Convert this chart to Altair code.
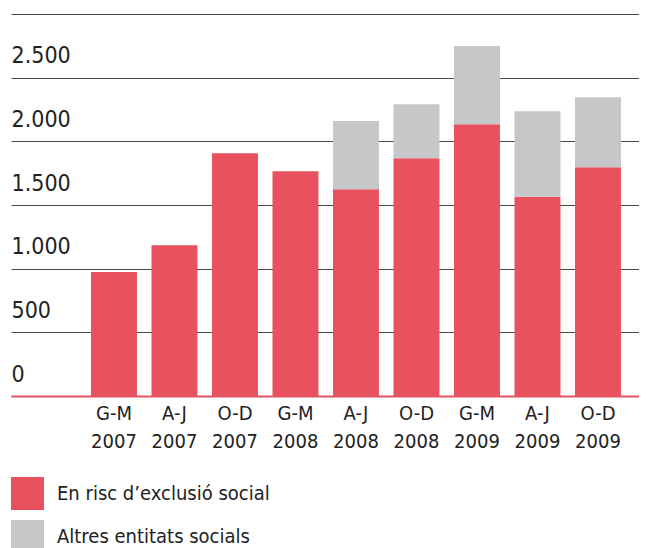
import altair as alt
import pandas as pd

periods = ["G-M 2007", "A-J 2007", "O-D 2007", "G-M 2008", "A-J 2008",
           "O-D 2008", "G-M 2009", "A-J 2009", "O-D 2009"]
risc = [974, 1184, 1907, 1766, 1624, 1868, 2135, 1564, 1797]
altres = [0, 0, 0, 0, 535, 424, 613, 673, 550]
series = ["En risc d’exclusió social", "Altres entitats socials"]
colors = ["#E8525F", "#C6C7C9"]
y_ticks = [0, 500, 1000, 1500, 2000, 2500, 3000]

rows = []
for p, a, b in zip(periods, risc, altres):
    rows.append({"period": p, "value": a, "serie": series[0], "ord": 0})
    rows.append({"period": p, "value": b, "serie": series[1], "ord": 1})
df = pd.DataFrame(rows)

FONT = "Liberation Sans Narrow, DejaVu Sans Condensed, Roboto, sans-serif"

chart = alt.Chart(df).mark_bar().encode(
    x=alt.X("period:N", sort=periods, title=None,
            scale=alt.Scale(paddingInner=0.24, paddingOuter=0.81, align=0.816),
            axis=alt.Axis(labelExpr="split(datum.label, ' ')", labelAngle=0,
                          labelFontSize=20, labelLineHeight=28, labelPadding=7,
                          labelFont=FONT, labelColor="#222", ticks=False,
                          domainColor="#E8525F", domainWidth=2, grid=False)),
    y=alt.Y("value:Q", stack="zero", title=None,
            scale=alt.Scale(domain=[0, 3000], nice=False),
            axis=alt.Axis(values=y_ticks, grid=True, gridColor="#4a4a4a", gridWidth=1.2,
                          domain=False, ticks=False, labelAlign="left",
                          labelBaseline="alphabetic", labelPadding=0, labelOffset=-15,
                          labelFontSize=23, labelFont=FONT, labelColor="#222",
                          labelExpr="datum.value == 3000 ? '' : replace(format(datum.value, ',d'), ',', '.')")),
    color=alt.Color("serie:N", scale=alt.Scale(domain=series, range=colors),
                    legend=alt.Legend(title=None, orient="none", legendX=0, legendY=463,
                                      symbolType="square", symbolSize=1089,
                                      symbolStrokeWidth=0, labelFontSize=20,
                                      labelFont=FONT, labelColor="#222",
                                      labelLimit=500,
                                      labelOffset=13, rowPadding=10, padding=0,
                                      direction="vertical")),
    order=alt.Order("ord:Q", sort="ascending"),
).properties(
    width=628, height=382,
    autosize=alt.AutoSizeParams(type="none"),
    padding={"left": 3, "top": 6, "right": 0, "bottom": 170},
).configure_view(stroke=None)

chart.save("out.html", embed_options={"renderer": "svg", "actions": False})
